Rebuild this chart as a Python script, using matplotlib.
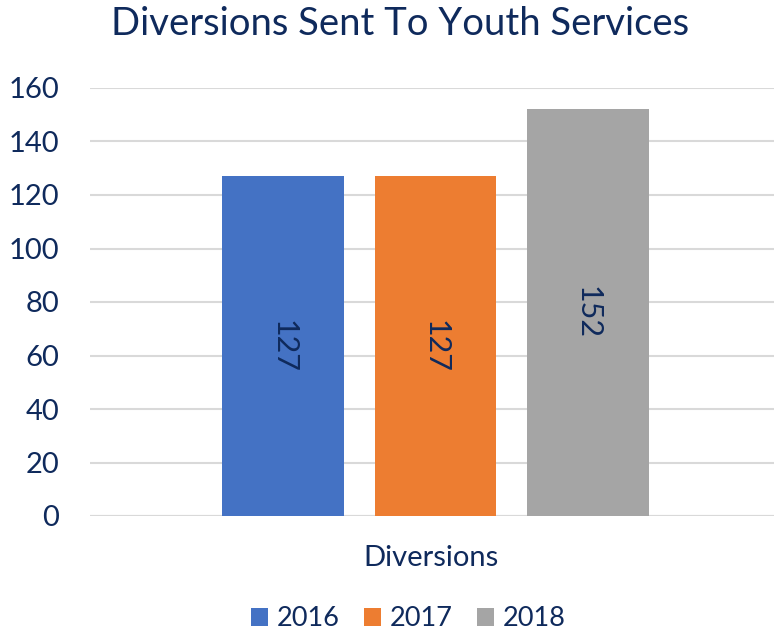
import matplotlib.pyplot as plt
import numpy as np

plt.rcParams['font.family'] = ['Lato', 'DejaVu Sans']

NAVY = '#0F2A5C'
title = "Diversions Sent To Youth Services"
category = "Diversions"
years = ['2016', '2017', '2018']
values = [127, 127, 152]
colors = ['#4472C4', '#ED7D31', '#A5A5A5']
yticks = [0, 20, 40, 60, 80, 100, 120, 140, 160]

fig = plt.figure(figsize=(7.74, 6.33), dpi=100)
ax = fig.add_axes([90/774, 1-516/633, 685/774, 428/633])

x = np.arange(len(years)) - 1
bars = ax.bar(x, values, width=0.8, color=colors, label=years, zorder=3)
for b, v in zip(bars, values):
    ax.text(b.get_x()+b.get_width()/2, v/2, str(v), rotation=-90,
            ha='center', va='center', fontsize=22, color=NAVY, zorder=4)

ax.set_xlim(-2.27, 2.23)
ax.set_ylim(0, 160)
ax.set_yticks(yticks)
ax.tick_params(axis='y', length=0, labelsize=21, labelcolor=NAVY, pad=22)
ax.set_xticks([])
ax.grid(axis='y', color='#D9D9D9', linewidth=1.5, zorder=0)
for s in ax.spines.values():
    s.set_visible(False)
ax.axhline(0, color='#D9D9D9', linewidth=1.5, zorder=2)

fig.text(431/774, 1-558/633, category, ha='center', va='center', fontsize=21, color=NAVY)
fig.text(400/774, 1-24/633, title, ha='center', va='center', fontsize=27.5, color=NAVY)

fig.legend(handles=bars, labels=years, loc='center', bbox_to_anchor=(408/774, 1-619/633),
           ncol=3, frameon=False, fontsize=19.5, labelcolor=NAVY, handlelength=0.65,
           handleheight=0.65, handletextpad=0.3, columnspacing=0.9)

fig.savefig('out.png', dpi=100)
